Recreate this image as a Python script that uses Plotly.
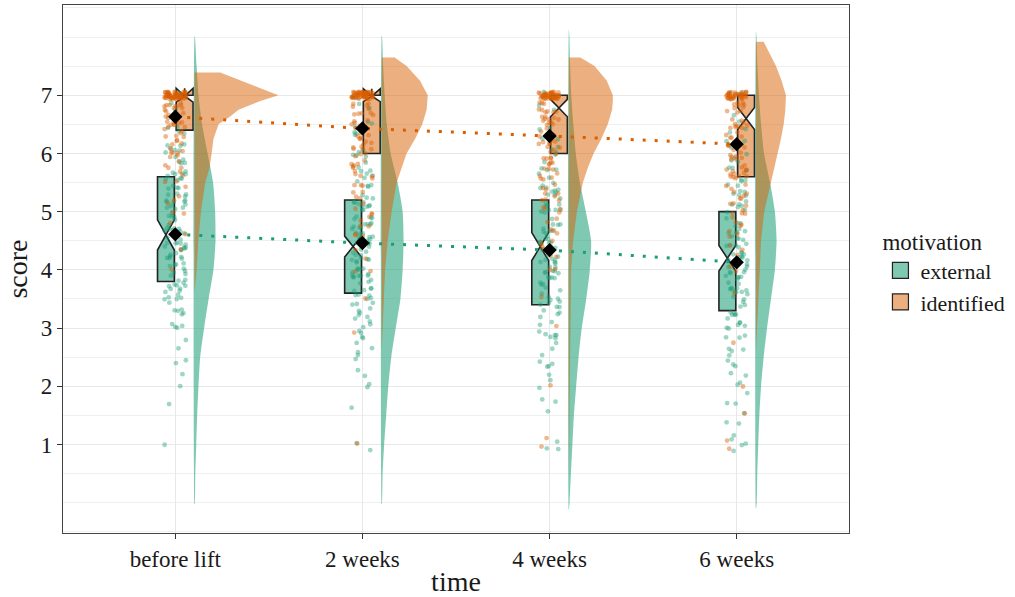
import math
import plotly.graph_objects as go

# ---------------- data ----------------
time_labels = ["before lift", "2 weeks", "4 weeks", "6 weeks"]
time_pos = [0, 1, 2, 3]

# score bins (centre of each 0.25-wide bin)
score_levels = [1.0, 1.25, 1.5, 1.75, 2.0, 2.25, 2.5, 2.75, 3.0, 3.25, 3.5, 3.75,
                4.0, 4.25, 4.5, 4.75, 5.0, 5.25, 5.5, 5.75, 6.0, 6.25, 6.5, 6.75, 7.0]

# participant counts per score bin
external_counts_before = [1, 0, 0, 1, 1, 1, 2, 2, 4, 5, 7, 10, 9, 10, 10, 10, 9, 9, 9, 8, 6, 4, 3, 2, 2]
external_counts_2w = [2, 0, 0, 1, 2, 2, 3, 4, 5, 6, 8, 9, 10, 11, 10, 10, 9, 7, 6, 5, 5, 3, 3, 2, 2]
external_counts_4w = [3, 0, 1, 2, 2, 3, 3, 4, 6, 6, 7, 8, 9, 10, 10, 9, 8, 7, 6, 5, 4, 3, 2, 2, 2]
external_counts_6w = [4, 2, 2, 2, 3, 3, 4, 5, 6, 7, 8, 9, 10, 10, 9, 8, 7, 6, 5, 4, 4, 3, 2, 1, 2]
identified_counts_before = [0, 0, 0, 0, 0, 0, 0, 0, 0, 0, 0, 0, 1, 1, 1, 1, 2, 3, 4, 5, 7, 8, 12, 14, 64]
identified_counts_2w = [1, 0, 0, 0, 0, 0, 0, 0, 1, 0, 1, 0, 2, 2, 3, 3, 4, 5, 6, 7, 9, 9, 10, 10, 55]
identified_counts_4w = [2, 0, 0, 0, 1, 0, 0, 0, 1, 0, 1, 0, 2, 3, 3, 4, 5, 6, 7, 8, 9, 10, 11, 11, 45]
identified_counts_6w = [2, 0, 1, 0, 1, 0, 0, 1, 0, 0, 1, 0, 2, 2, 3, 4, 6, 7, 8, 9, 10, 10, 10, 10, 38]

# box statistics
external_q1 = [3.8, 3.6, 3.4, 3.3]
external_median = [4.6, 4.4, 4.4, 4.2]
external_q3 = [5.6, 5.2, 5.2, 5.0]
external_notch = [0.26, 0.18, 0.24, 0.22]
identified_q1 = [6.4, 6.0, 6.0, 5.6]
identified_median = [7.0, 7.0, 6.78, 6.6]
identified_q3 = [7.0, 7.0, 7.0, 7.0]
identified_notch = [0.12, 0.11, 0.15, 0.19]

# group means
external_mean = [4.61, 4.46, 4.34, 4.13]
identified_mean = [6.63, 6.43, 6.30, 6.16]

# half-violin densities (width in x-axis units)
violin_grid = [0, 0.5, 1, 1.5, 2, 2.5, 3, 3.5, 4, 4.5, 5, 5.5, 6, 6.5, 7, 7.5, 8]
external_violin_before = [0.002, 0.004, 0.009, 0.014, 0.021, 0.030, 0.051, 0.075, 0.101, 0.112, 0.110, 0.099, 0.070, 0.040, 0.021, 0.011, 0.002]
external_violin_2w = [0.002, 0.005, 0.013, 0.024, 0.035, 0.051, 0.075, 0.100, 0.112, 0.117, 0.112, 0.085, 0.048, 0.027, 0.016, 0.008, 0.002]
external_violin_4w = [0.004, 0.011, 0.019, 0.027, 0.039, 0.052, 0.069, 0.093, 0.112, 0.119, 0.091, 0.059, 0.037, 0.024, 0.013, 0.007, 0.003]
external_violin_6w = [0.004, 0.007, 0.012, 0.018, 0.027, 0.041, 0.059, 0.080, 0.101, 0.110, 0.101, 0.075, 0.043, 0.027, 0.016, 0.008, 0.003]
external_violin_top = [8.02, 8.03, 8.13, 8.10]
external_violin_bottom = [-0.03, -0.03, -0.12, -0.10]

identified_violin_y_before = [3.6, 4.0, 4.5, 5.0, 5.5, 5.75, 6.0, 6.25, 6.5, 6.64, 6.75, 6.9, 7.0, 7.1, 7.2, 7.3, 7.39]
identified_violin_w_before = [0.0, 0.011, 0.020, 0.034, 0.057, 0.080, 0.091, 0.101, 0.128, 0.192, 0.235, 0.352, 0.448, 0.368, 0.288, 0.208, 0.137]
identified_violin_y_2w = [2.6, 3.0, 3.5, 4.0, 4.5, 5.0, 5.5, 5.75, 6.0, 6.25, 6.5, 6.75, 7.0, 7.25, 7.5, 7.65]
identified_violin_w_2w = [0.0, 0.004, 0.009, 0.018, 0.032, 0.053, 0.080, 0.107, 0.133, 0.178, 0.217, 0.240, 0.246, 0.205, 0.133, 0.069]
identified_violin_y_4w = [0.4, 1.0, 2.0, 3.0, 4.0, 4.5, 5.0, 5.5, 5.75, 6.0, 6.25, 6.5, 6.75, 6.9, 7.0, 7.25, 7.5, 7.65]
identified_violin_w_4w = [0.0, 0.002, 0.003, 0.005, 0.012, 0.023, 0.043, 0.075, 0.101, 0.132, 0.173, 0.208, 0.231, 0.235, 0.235, 0.203, 0.137, 0.062]
identified_violin_y_6w = [2.6, 3.0, 3.5, 4.0, 4.5, 5.0, 5.5, 5.75, 6.0, 6.25, 6.5, 6.75, 7.0, 7.25, 7.5, 7.75, 7.92]
identified_violin_w_6w = [0.0, 0.005, 0.011, 0.018, 0.027, 0.044, 0.080, 0.101, 0.119, 0.133, 0.148, 0.157, 0.160, 0.137, 0.107, 0.068, 0.041]

# ---------------- style ----------------
GREEN = "#1b9e77"
ORANGE = "#d95f02"
GREEN_FILL = "rgba(27,158,119,0.56)"
ORANGE_FILL = "rgba(217,95,2,0.5)"
FONT = "Liberation Serif"
VIOLIN_OFFSET = 0.103
BOX_SHIFT = 0.05
BOX_WIDTH = 0.09
JITTER_X = 0.058
BIN_HALF = 0.125
SCORE_MAX = 7.0

fig = go.Figure()

# ---------------- half violins ----------------
ext_violins = [external_violin_before, external_violin_2w, external_violin_4w, external_violin_6w]
for c, w, top, bot in zip(time_pos, ext_violins, external_violin_top, external_violin_bottom):
    base = c + VIOLIN_OFFSET
    ys = [bot] + violin_grid + [top]
    ws = [0.0] + w + [0.0]
    xs = [base + v for v in ws] + [base]
    yy = ys + [bot]
    fig.add_trace(go.Scatter(x=xs, y=yy, mode="lines", fill="toself", fillcolor=GREEN_FILL,
                             line=dict(width=0, shape="spline", smoothing=0.6),
                             showlegend=False, hoverinfo="skip"))

id_violins = [(identified_violin_y_before, identified_violin_w_before),
              (identified_violin_y_2w, identified_violin_w_2w),
              (identified_violin_y_4w, identified_violin_w_4w),
              (identified_violin_y_6w, identified_violin_w_6w)]
for c, (ys, ws) in zip(time_pos, id_violins):
    base = c + VIOLIN_OFFSET
    xs = [base] + [base + v for v in ws] + [base, base]
    yy = [ys[0]] + ys + [ys[-1], ys[0]]
    fig.add_trace(go.Scatter(x=xs, y=yy, mode="lines", fill="toself", fillcolor=ORANGE_FILL,
                             line=dict(width=0),
                             showlegend=False, hoverinfo="skip"))

# ---------------- jittered raw points ----------------
def _hash01(a, b):
    h = math.sin(a * 12.9898 + b * 78.233) * 43758.5453
    return h - math.floor(h)

def jittered(counts, c, seed):
    xs, ys = [], []
    k = 0
    for lvl, n in zip(score_levels, counts):
        for _ in range(n):
            k += 1
            u = _hash01(k, seed)
            v = _hash01(k + 0.5, seed + 3.7)
            xs.append(c + (u - 0.5) * 2 * JITTER_X)
            if lvl >= SCORE_MAX:
                ys.append(lvl + (v - 0.55) * 0.13)
            else:
                ys.append(lvl + (v - 0.5) * 2 * BIN_HALF)
    return xs, ys

ext_counts = [external_counts_before, external_counts_2w, external_counts_4w, external_counts_6w]
id_counts = [identified_counts_before, identified_counts_2w, identified_counts_4w, identified_counts_6w]
for i, c in enumerate(time_pos):
    x1, y1 = jittered(ext_counts[i], c, 11 + 37 * i)
    fig.add_trace(go.Scatter(x=x1, y=y1, mode="markers",
                             marker=dict(size=4.8, color=GREEN, opacity=0.42),
                             showlegend=False, hoverinfo="skip"))
for i, c in enumerate(time_pos):
    x2, y2 = jittered(id_counts[i], c, 23 + 53 * i)
    fig.add_trace(go.Scatter(x=x2, y=y2, mode="markers",
                             marker=dict(size=4.8, color=ORANGE, opacity=0.45),
                             showlegend=False, hoverinfo="skip"))

# ---------------- notched boxes ----------------
fig.add_trace(go.Box(x=[c - BOX_SHIFT for c in time_pos], q1=external_q1, median=external_median,
                     q3=external_q3, lowerfence=external_q1, upperfence=external_q3,
                     notchspan=external_notch, notched=True, notchwidth=0.5, width=BOX_WIDTH,
                     whiskerwidth=0, fillcolor=GREEN_FILL, line=dict(color="#222222", width=1.6),
                     boxpoints=False, showlegend=False, hoverinfo="skip"))
fig.add_trace(go.Box(x=[c + BOX_SHIFT for c in time_pos], q1=identified_q1, median=identified_median,
                     q3=identified_q3, lowerfence=identified_q1, upperfence=identified_q3,
                     notchspan=identified_notch, notched=True, notchwidth=0.5, width=BOX_WIDTH,
                     whiskerwidth=0, fillcolor=ORANGE_FILL, line=dict(color="#222222", width=1.6),
                     boxpoints=False, showlegend=False, hoverinfo="skip"))

# ---------------- mean lines & diamonds ----------------
for means, col in [(external_mean, GREEN), (identified_mean, ORANGE)]:
    fig.add_trace(go.Scatter(x=time_pos, y=means, mode="lines",
                             line=dict(color=col, width=3, dash="3px,9px"),
                             showlegend=False, hoverinfo="skip"))
for means in [external_mean, identified_mean]:
    fig.add_trace(go.Scatter(x=time_pos, y=means, mode="markers",
                             marker=dict(symbol="diamond", size=11, color="black"),
                             showlegend=False, hoverinfo="skip"))

# ---------------- legend entries ----------------
for name, fill in [("external", GREEN_FILL), ("identified", ORANGE_FILL)]:
    fig.add_trace(go.Scatter(x=[None], y=[None], mode="markers", name=name,
                             marker=dict(symbol="square", size=18, color=fill,
                                         line=dict(color="#222222", width=1.2))))

fig.update_layout(
    width=1015, height=597,
    margin=dict(l=63, r=166, t=5, b=64, autoexpand=False),
    paper_bgcolor="white", plot_bgcolor="white",
    font=dict(family=FONT, size=23, color="#1a1a1a"),
    showlegend=True,
    legend=dict(title=dict(text="motivation", font=dict(size=23)),
                x=1.04, xanchor="left", y=0.495, yanchor="middle",
                font=dict(size=22), tracegroupgap=0, itemsizing="trace",
                bgcolor="rgba(0,0,0,0)"),
    xaxis=dict(range=[-0.6, 3.6], tickvals=time_pos, ticktext=time_labels,
               showgrid=True, gridcolor="#e8e8e8", gridwidth=1.3, zeroline=False,
               showline=True, mirror=True, linecolor="#444444", linewidth=1.2,
               ticks="outside", ticklen=5, tickcolor="#333333", automargin=False,
               tickfont=dict(size=23),
               title=dict(text="time", standoff=0)),
    yaxis=dict(range=[-0.52, 8.55], tickvals=[1, 2, 3, 4, 5, 6, 7],
               showgrid=True, gridcolor="#e8e8e8", gridwidth=1.3, zeroline=False,
               minor=dict(dtick=0.5, tick0=0, showgrid=True, gridcolor="#efefef", gridwidth=1.1),
               showline=True, mirror=True, linecolor="#444444", linewidth=1.2,
               ticks="outside", ticklen=5, tickcolor="#333333", automargin=False,
               tickfont=dict(size=23),
               title=dict(text="score", standoff=4)),
)

fig.write_html("out.html", config={"displayModeBar": False},
               post_script="document.body.style.margin='0';")
